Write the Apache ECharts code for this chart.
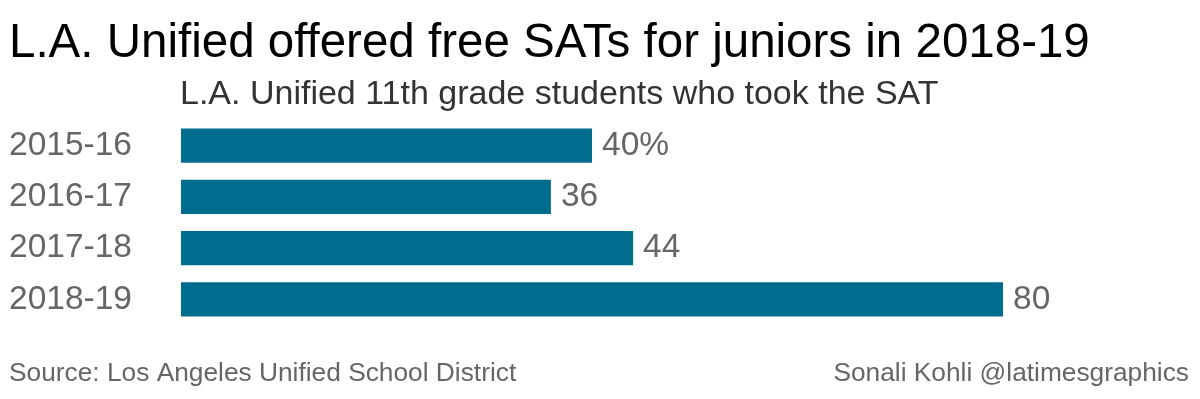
<!DOCTYPE html>
<html>
<head>
<meta charset="utf-8">
<script src="https://cdn.jsdelivr.net/npm/echarts@6/dist/echarts.min.js"></script>
<style>
  html, body { margin: 0; padding: 0; background: #fff; }
  #chart { width: 1200px; height: 399px; }
</style>
</head>
<body>
<div id="chart"></div>
<script>
// school years (top to bottom) and share of 11th graders taking the SAT
var years = ['2015-16', '2016-17', '2017-18', '2018-19'];
var pctTookSat = [40, 36, 44, 80];

var chart = echarts.init(document.getElementById('chart'));
var font = '"Liberation Sans", Arial, Helvetica, sans-serif';

var option = {
    animation: false,
    backgroundColor: '#fff',
    title: [
        {
            text: 'L.A. Unified offered free SATs for juniors in 2018-19',
            left: 4, top: 15,
            textStyle: { fontFamily: font, fontSize: 47.5, fontWeight: 'normal', color: '#000' }
        },
        {
            text: 'L.A. Unified 11th grade students who took the SAT',
            left: 175, top: 73,
            textStyle: { fontFamily: font, fontSize: 34, fontWeight: 'normal', color: '#333' }
        },
        {
            text: 'Source: Los Angeles Unified School District',
            left: 4, top: 356,
            textStyle: { fontFamily: font, fontSize: 26.3, fontWeight: 'normal', color: '#666' }
        },
        {
            text: 'Sonali Kohli @latimesgraphics',
            right: 6, top: 356,
            textStyle: { fontFamily: font, fontSize: 26.3, fontWeight: 'normal', color: '#666' }
        }
    ],
    grid: { left: 181, right: 197, top: 120, bottom: 74 },
    xAxis: {
        type: 'value', min: 0, max: 80,
        show: false
    },
    yAxis: {
        type: 'category',
        data: years,
        inverse: true,
        axisLine: { show: false },
        axisTick: { show: false },
        splitLine: { show: false },
        axisLabel: {
            align: 'left', margin: 172,
            fontFamily: font, fontSize: 33.5, color: '#666'
        }
    },
    series: [{
        type: 'bar',
        data: pctTookSat,
        barCategoryGap: '33%',
        itemStyle: { color: '#006d8f' },
        label: {
            show: true, position: 'right', distance: 10,
            fontFamily: font, fontSize: 33.5, color: '#666',
            formatter: function (p) { return p.dataIndex === 0 ? p.value + '%' : p.value; }
        }
    }]
};

chart.setOption(option);
</script>
</body>
</html>
